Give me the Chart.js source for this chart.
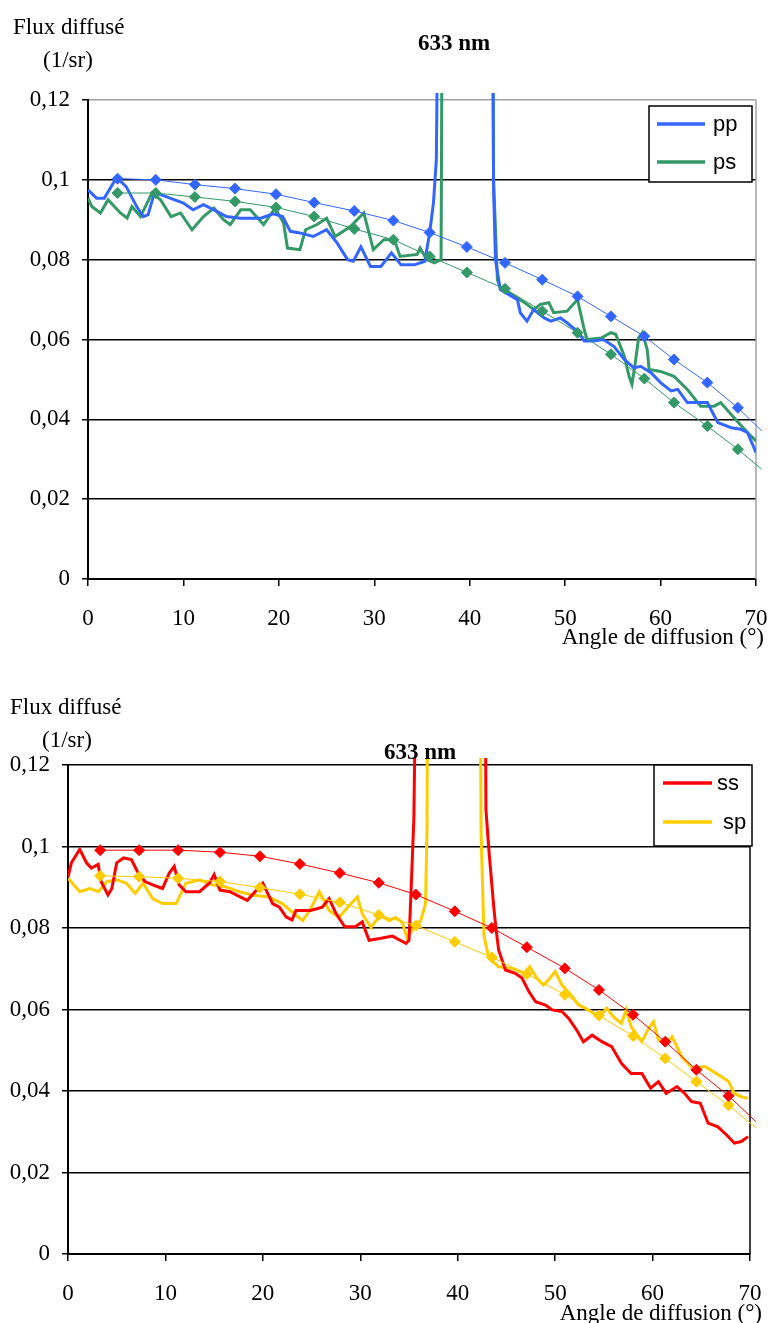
<!DOCTYPE html>
<html lang="fr">
<head>
<meta charset="utf-8">
<title>Flux diffusé - 633 nm</title>
<script src="https://cdn.jsdelivr.net/npm/chart.js@4.4.0/dist/chart.umd.min.js"></script>
<style>
  body { margin: 0; background: #fff; font-family: 'Liberation Serif', 'Times New Roman', serif; }
  #page { position: relative; width: 768px; height: 1323px; overflow: hidden; background: #fff; }
  canvas { position: absolute; left: 0; }
  .lbl { position: absolute; white-space: nowrap; font-size: 23px; line-height: 26px; color: #000; }
  .bold { font-weight: bold; }
</style>
</head>
<body>
<div id="page">
  <canvas id="chartP" width="768" height="660" style="top:0"></canvas>
  <canvas id="chartS" width="768" height="663" style="top:660px"></canvas>

  <div class="lbl" style="left:13px;top:14px">Flux diffusé</div>
  <div class="lbl" style="left:43px;top:47px">(1/sr)</div>
  <div class="lbl bold" style="left:418px;top:30px">633 nm</div>
  <div class="lbl" style="right:4px;top:624px">Angle de diffusion (°)</div>

  <div class="lbl" style="left:10px;top:694px">Flux diffusé</div>
  <div class="lbl" style="left:42px;top:727px">(1/sr)</div>
  <div class="lbl bold" style="left:384px;top:739px">633 nm</div>
  <div class="lbl" style="right:6px;top:1300px">Angle de diffusion (°)</div>
</div>

<script>
// axes
const xTickValues = [0, 10, 20, 30, 40, 50, 60, 70];
const yTickValues = [0, 0.02, 0.04, 0.06, 0.08, 0.1, 0.12];

// --- chart 1 : pp / ps ---
const ppAngle = [0, 0.9, 1.7, 3.0, 4.0, 5.1, 5.8, 6.3, 7.0, 7.6, 8.6, 10.0, 11.0, 12.1, 13.5, 14.5, 16.0, 18.1, 19.4, 20.4,
  21.2, 22.2, 23.6, 25.0, 26.1, 27.2, 27.8, 28.6, 29.6, 30.7, 31.8, 32.8, 34.2, 35.3, 35.8, 36.2, 36.5, 36.9,
  42.3, 42.5, 42.7, 43.2, 45.0, 45.3, 46.0, 46.7, 47.8, 48.5, 49.5, 50.2, 51.3, 52.0, 53.0, 54.0, 55.1, 56.2,
  57.2, 57.9, 59.0, 60.0, 61.1, 61.8, 62.8, 63.8, 64.9, 66.0, 67.4, 68.4, 69.1, 70.0];
const ppFlux = [0.0975, 0.0954, 0.0954, 0.1006, 0.0983, 0.0933, 0.0908, 0.0913, 0.0971, 0.0963, 0.0954, 0.0942, 0.0925,
  0.0938, 0.0921, 0.0908, 0.0904, 0.0904, 0.0915, 0.0908,
  0.0871, 0.0867, 0.0858, 0.0875, 0.0842, 0.0800, 0.0796, 0.0832, 0.0783, 0.0783, 0.0817, 0.0787, 0.0787, 0.0796,
  0.0867, 0.0942, 0.1050, 0.2,
  0.2, 0.0975, 0.0800, 0.0725, 0.0700, 0.0667, 0.0646, 0.0675, 0.0654, 0.0646, 0.0654, 0.0642, 0.0620, 0.0596,
  0.0596, 0.0600, 0.0583, 0.0550, 0.0529, 0.0533, 0.0517, 0.0492, 0.0471, 0.0475, 0.0442, 0.0442, 0.0442, 0.0392,
  0.0379, 0.0375, 0.0367, 0.0317];

const psAngle = [0, 0.4, 1.3, 2.1, 3.4, 4.1, 4.6, 5.5, 6.7, 7.6, 8.7, 9.7, 10.9, 12.1, 13.2, 14.2, 14.9, 16.0, 17.0, 18.4,
  19.6, 20.5, 20.9, 22.2, 22.8, 24.0, 25.0, 25.9, 27.5, 28.9, 29.9, 31.0, 32.1, 32.7, 34.5, 34.8, 35.5, 36.3, 37.0,
  37.2, 42.3, 42.5, 42.9, 43.2, 45.0, 46.0, 46.7, 47.4, 48.3, 48.8, 50.2, 51.3, 52.0, 52.3, 53.8, 54.8, 55.3, 56.2,
  56.7, 57.0, 57.3, 57.7, 58.1, 58.6, 58.8, 60.0, 61.4, 62.8, 64.2, 65.6, 66.3, 67.7, 69.1, 70.0];
const psFlux = [0.0954, 0.0933, 0.0917, 0.0950, 0.0917, 0.0904, 0.0933, 0.0908, 0.0967, 0.0950, 0.0908, 0.0917, 0.0875,
  0.0908, 0.0929, 0.0900, 0.0888, 0.0925, 0.0925, 0.0888,
  0.0929, 0.0892, 0.0829, 0.0825, 0.0875, 0.0888, 0.0904, 0.0858, 0.0883, 0.0917, 0.0825, 0.0850, 0.0850, 0.0808,
  0.0813, 0.0829, 0.0800, 0.0792, 0.0800,
  0.2, 0.2, 0.1000, 0.0750, 0.0730, 0.0704, 0.0688, 0.0675, 0.0688, 0.0692, 0.0667, 0.0671, 0.0700, 0.0625, 0.0600,
  0.0604, 0.0617, 0.0613, 0.0558, 0.0508, 0.0488, 0.0533, 0.0604, 0.0617, 0.0575, 0.0525, 0.0520, 0.0508, 0.0475,
  0.0433, 0.0433, 0.0442, 0.0404, 0.0367, 0.0346];

const fitAngleP = [3.1, 7.1, 11.2, 15.4, 19.7, 23.7, 27.9, 32.0, 35.8, 39.7, 43.7, 47.6, 51.3, 54.8, 58.3, 61.4, 64.9, 68.1, 70.6];
const ppFit = [0.1003, 0.1000, 0.0988, 0.0978, 0.0964, 0.0943, 0.0922, 0.0898, 0.0868, 0.0832, 0.0792, 0.0750, 0.0708,
  0.0658, 0.0608, 0.0550, 0.0492, 0.0429, 0.0371];
const psFit = [0.0967, 0.0967, 0.0957, 0.0946, 0.0931, 0.0908, 0.0877, 0.0850, 0.0808, 0.0768, 0.0727, 0.0671, 0.0617,
  0.0563, 0.0502, 0.0442, 0.0383, 0.0325, 0.0275];

// --- chart 2 : ss / sp ---
const ssAngle = [0, 0.35, 1.2, 1.9, 2.4, 3.1, 3.4, 4.1, 4.5, 5.0, 5.7, 6.5, 7.2, 7.9, 8.7, 9.7, 10.4, 10.9, 11.4, 12.1,
  13.5, 14.5, 15.0, 15.6, 16.6, 18.4, 20.0, 21.0, 21.7, 22.4, 23.0, 23.4, 24.9, 26.1, 26.8, 27.5, 28.4, 29.5, 30.2,
  30.9, 32.0, 33.3, 34.7, 35.0, 35.2, 35.5, 36.0,
  42.7, 42.9, 43.2, 43.7, 43.9, 44.2, 44.9, 45.9, 46.6, 47.3, 48.0, 49.0, 49.7, 50.7, 51.4, 52.3, 52.9, 53.8, 54.8,
  55.8, 56.8, 57.8, 58.9, 59.8, 60.6, 61.4, 62.5, 63.3, 64.0, 64.9, 65.7, 66.7, 67.6, 68.4, 69.1, 69.8];
const ssFlux = [0.0925, 0.0960, 0.0993, 0.0960, 0.0947, 0.0956, 0.0914, 0.0881, 0.0897, 0.0960, 0.0972, 0.0968, 0.0935,
  0.0914, 0.0906, 0.0897, 0.0935, 0.0951, 0.0906, 0.0889,
  0.0889, 0.0910, 0.0931, 0.0893, 0.0889, 0.0868, 0.0910, 0.0860, 0.0851, 0.0827, 0.0820, 0.0843, 0.0843, 0.0851,
  0.0872, 0.0836, 0.0803, 0.0803, 0.0815, 0.0770, 0.0774, 0.0780, 0.0762, 0.0770, 0.0883, 0.1070, 0.2,
  0.2, 0.1090, 0.0991, 0.0852, 0.0804, 0.0746, 0.0697, 0.0689, 0.0677, 0.0644, 0.0619, 0.0611, 0.0599, 0.0595,
  0.0578, 0.0546, 0.0521, 0.0537, 0.0521, 0.0509, 0.0468, 0.0443, 0.0443, 0.0407, 0.0423, 0.0394, 0.0411, 0.0394,
  0.0374, 0.0370, 0.0321, 0.0312, 0.0292, 0.0272, 0.0276, 0.0288];

const spAngle = [0, 1.2, 2.25, 3.1, 4.0, 5.0, 6.0, 6.9, 7.7, 8.7, 9.7, 11.1, 12.1, 13.5, 14.8, 16.2, 17.6, 18.9, 20.6,
  22.0, 23.2, 24.1, 24.8, 25.8, 26.8, 27.8, 28.7, 29.7, 30.2, 31.1, 32.0, 33.0, 33.6, 34.3, 34.8, 35.5, 36.2, 36.7,
  36.85, 37.0, 42.2, 42.4, 42.7, 43.2, 44.2, 45.6, 46.8, 47.4, 48.1, 48.8, 49.3, 50.0, 50.7, 51.6, 52.4, 53.4, 54.5,
  55.3, 56.0, 56.8, 57.3, 57.8, 58.9, 59.6, 60.1, 60.6, 61.4, 62.0, 63.0, 64.1, 65.4, 66.8, 67.8, 68.4, 69.1, 69.8];
const spFlux = [0.0922, 0.0889, 0.0897, 0.0889, 0.0914, 0.0918, 0.0910, 0.0885, 0.0910, 0.0872, 0.0860, 0.0860, 0.0910,
  0.0918, 0.0906, 0.0901, 0.0889, 0.0881, 0.0876,
  0.0860, 0.0835, 0.0818, 0.0843, 0.0889, 0.0843, 0.0826, 0.0851, 0.0876, 0.0835, 0.0801, 0.0831, 0.0818, 0.0826,
  0.0814, 0.0776, 0.0801, 0.0818, 0.0860, 0.1050, 0.2,
  0.2, 0.1030, 0.0780, 0.0726, 0.0705, 0.0701, 0.0689, 0.0705, 0.0677, 0.0660, 0.0672, 0.0693, 0.0660, 0.0636,
  0.0611, 0.0599, 0.0582, 0.0603, 0.0582, 0.0566, 0.0599, 0.0558, 0.0521, 0.0554, 0.0570, 0.0525, 0.0517, 0.0533,
  0.0484, 0.0456, 0.0460, 0.0439, 0.0423, 0.0394, 0.0386, 0.0382];

const fitAngleS = [3.3, 7.3, 11.3, 15.6, 19.7, 23.8, 27.9, 31.9, 35.7, 39.7, 43.5, 47.1, 51.0, 54.5, 58.0, 61.3, 64.5, 67.8, 70.6];
const ssFit = [0.0991, 0.0991, 0.0991, 0.0986, 0.0976, 0.0957, 0.0935, 0.0911, 0.0882, 0.0841, 0.0800, 0.0753, 0.0701,
  0.0648, 0.0587, 0.0521, 0.0452, 0.0388, 0.0325];
const spFit = [0.0928, 0.0926, 0.0922, 0.0914, 0.0899, 0.0883, 0.0863, 0.0832, 0.0806, 0.0766, 0.0728, 0.0687, 0.0636,
  0.0585, 0.0535, 0.0480, 0.0423, 0.0365, 0.0310];

const serif = "'Liberation Serif', 'Times New Roman', serif";

function pairs(xs, ys) {
    return xs.map((x, i) => ({ x: x, y: ys[i] }));
}

function measured(label, color, xs, ys) {
    return {
        label: label,
        data: pairs(xs, ys),
        borderColor: color,
        backgroundColor: color,
        borderWidth: 3,
        pointRadius: 0,
        tension: 0,
        clip: { left: 0, top: 7, right: 0, bottom: 0 }
    };
}

function fitted(color, xs, ys) {
    const last = xs.length - 1;
    return {
        label: '',
        data: pairs(xs, ys),
        borderColor: color,
        backgroundColor: color,
        borderWidth: 1,
        pointStyle: 'rectRot',
        pointRadius: ctx => (ctx.dataIndex === last ? 0 : 5.5),
        pointBorderWidth: 1,
        tension: 0,
        clip: { left: 0, top: 7, right: 6, bottom: 0 }
    };
}

// right border of the plot area
const framePlugin = {
    id: 'frame',
    beforeDatasetsDraw(chart, args, opts) {
        const { ctx, chartArea: a } = chart;
        ctx.save();
        ctx.strokeStyle = opts.color;
        ctx.lineWidth = 1.5;
        ctx.beginPath();
        ctx.moveTo(a.right, a.top);
        ctx.lineTo(a.right, a.bottom);
        ctx.stroke();
        ctx.restore();
    }
};

// Excel-like legend box drawn inside the plot
const boxLegend = {
    id: 'boxLegend',
    afterDraw(chart, args, opts) {
        const ctx = chart.ctx;
        const [x, y, w, h] = opts.box;
        ctx.save();
        ctx.fillStyle = '#fff';
        ctx.fillRect(x, y, w, h);
        ctx.strokeStyle = '#000';
        ctx.lineWidth = 1.5;
        ctx.strokeRect(x, y, w, h);
        ctx.font = "22px 'Liberation Sans', Arial, sans-serif";
        ctx.textBaseline = 'middle';
        opts.items.forEach(item => {
            const ds = chart.data.datasets[item.dataset];
            ctx.strokeStyle = ds.borderColor;
            ctx.lineWidth = 3.5;
            ctx.beginPath();
            ctx.moveTo(item.x0, item.y);
            ctx.lineTo(item.x1, item.y);
            ctx.stroke();
            ctx.fillStyle = '#000';
            ctx.fillText(ds.label, item.tx, item.y + 1);
        });
        ctx.restore();
    }
};

function makeChart(canvasId, datasets, cfg) {
    const ctx = document.getElementById(canvasId).getContext('2d');
    return new Chart(ctx, {
        type: 'line',
        data: { datasets: datasets },
        plugins: [framePlugin, boxLegend],
        options: {
            responsive: false,
            devicePixelRatio: 1,
            animation: false,
            events: [],
            layout: { padding: { left: 0, top: cfg.top, right: cfg.right, bottom: 0 } },
            scales: {
                x: {
                    type: 'linear',
                    min: 0,
                    max: 70,
                    afterFit: s => {
                        s.height = cfg.xHeight;
                        s.paddingLeft = 0;
                        s.paddingRight = 0;
                    },
                    afterBuildTicks: s => { s.ticks = xTickValues.map(v => ({ value: v })); },
                    border: { color: '#000', width: 2 },
                    grid: { drawOnChartArea: false, color: '#000', tickColor: '#000', tickLength: 7, lineWidth: 1.5 },
                    ticks: {
                        autoSkip: false,
                        maxRotation: 0,
                        padding: 19,
                        color: '#000',
                        font: { family: serif, size: 23 },
                        callback: v => String(v)
                    }
                },
                y: {
                    type: 'linear',
                    min: 0,
                    max: 0.12,
                    afterFit: s => { s.width = cfg.yWidth; },
                    afterBuildTicks: s => { s.ticks = yTickValues.map(v => ({ value: v })); },
                    border: { color: '#000', width: 2 },
                    grid: {
                        color: c => (c.tick && c.tick.value > 0.119 ? cfg.topColor : '#000'),
                        tickColor: '#000',
                        tickLength: 6,
                        lineWidth: 1.5
                    },
                    ticks: {
                        padding: 12,
                        color: '#000',
                        font: { family: serif, size: 23 },
                        callback: v => String(Math.round(v * 100) / 100).replace('.', ',')
                    }
                }
            },
            plugins: {
                legend: { display: false },
                tooltip: { enabled: false },
                title: { display: false },
                frame: { color: cfg.frameColor },
                boxLegend: cfg.legend
            }
        }
    });
}

makeChart('chartP', [
    fitted('#3366ff', fitAngleP, ppFit),
    fitted('#339966', fitAngleP, psFit),
    measured('pp', '#3366ff', ppAngle, ppFlux),
    measured('ps', '#339966', psAngle, psFlux)
], {
    top: 100, right: 12, yWidth: 88, xHeight: 81,
    topColor: '#a0a0a0', frameColor: '#a0a0a0',
    legend: {
        box: [649, 106, 103, 76],
        items: [
            { dataset: 2, y: 124, x0: 657, x1: 705, tx: 713 },
            { dataset: 3, y: 162, x0: 657, x1: 705, tx: 713 }
        ]
    }
});

makeChart('chartS', [
    fitted('#ff0000', fitAngleS, ssFit),
    fitted('#ffcc00', fitAngleS, spFit),
    measured('ss', '#ff0000', ssAngle, ssFlux),
    measured('sp', '#ffcc00', spAngle, spFlux)
], {
    top: 105, right: 18, yWidth: 68, xHeight: 69,
    topColor: '#000', frameColor: '#000',
    legend: {
        box: [654, 105, 98, 81],
        items: [
            { dataset: 2, y: 123, x0: 663, x1: 712, tx: 717 },
            { dataset: 3, y: 162, x0: 663, x1: 712, tx: 723 }
        ]
    }
});
</script>
</body>
</html>
